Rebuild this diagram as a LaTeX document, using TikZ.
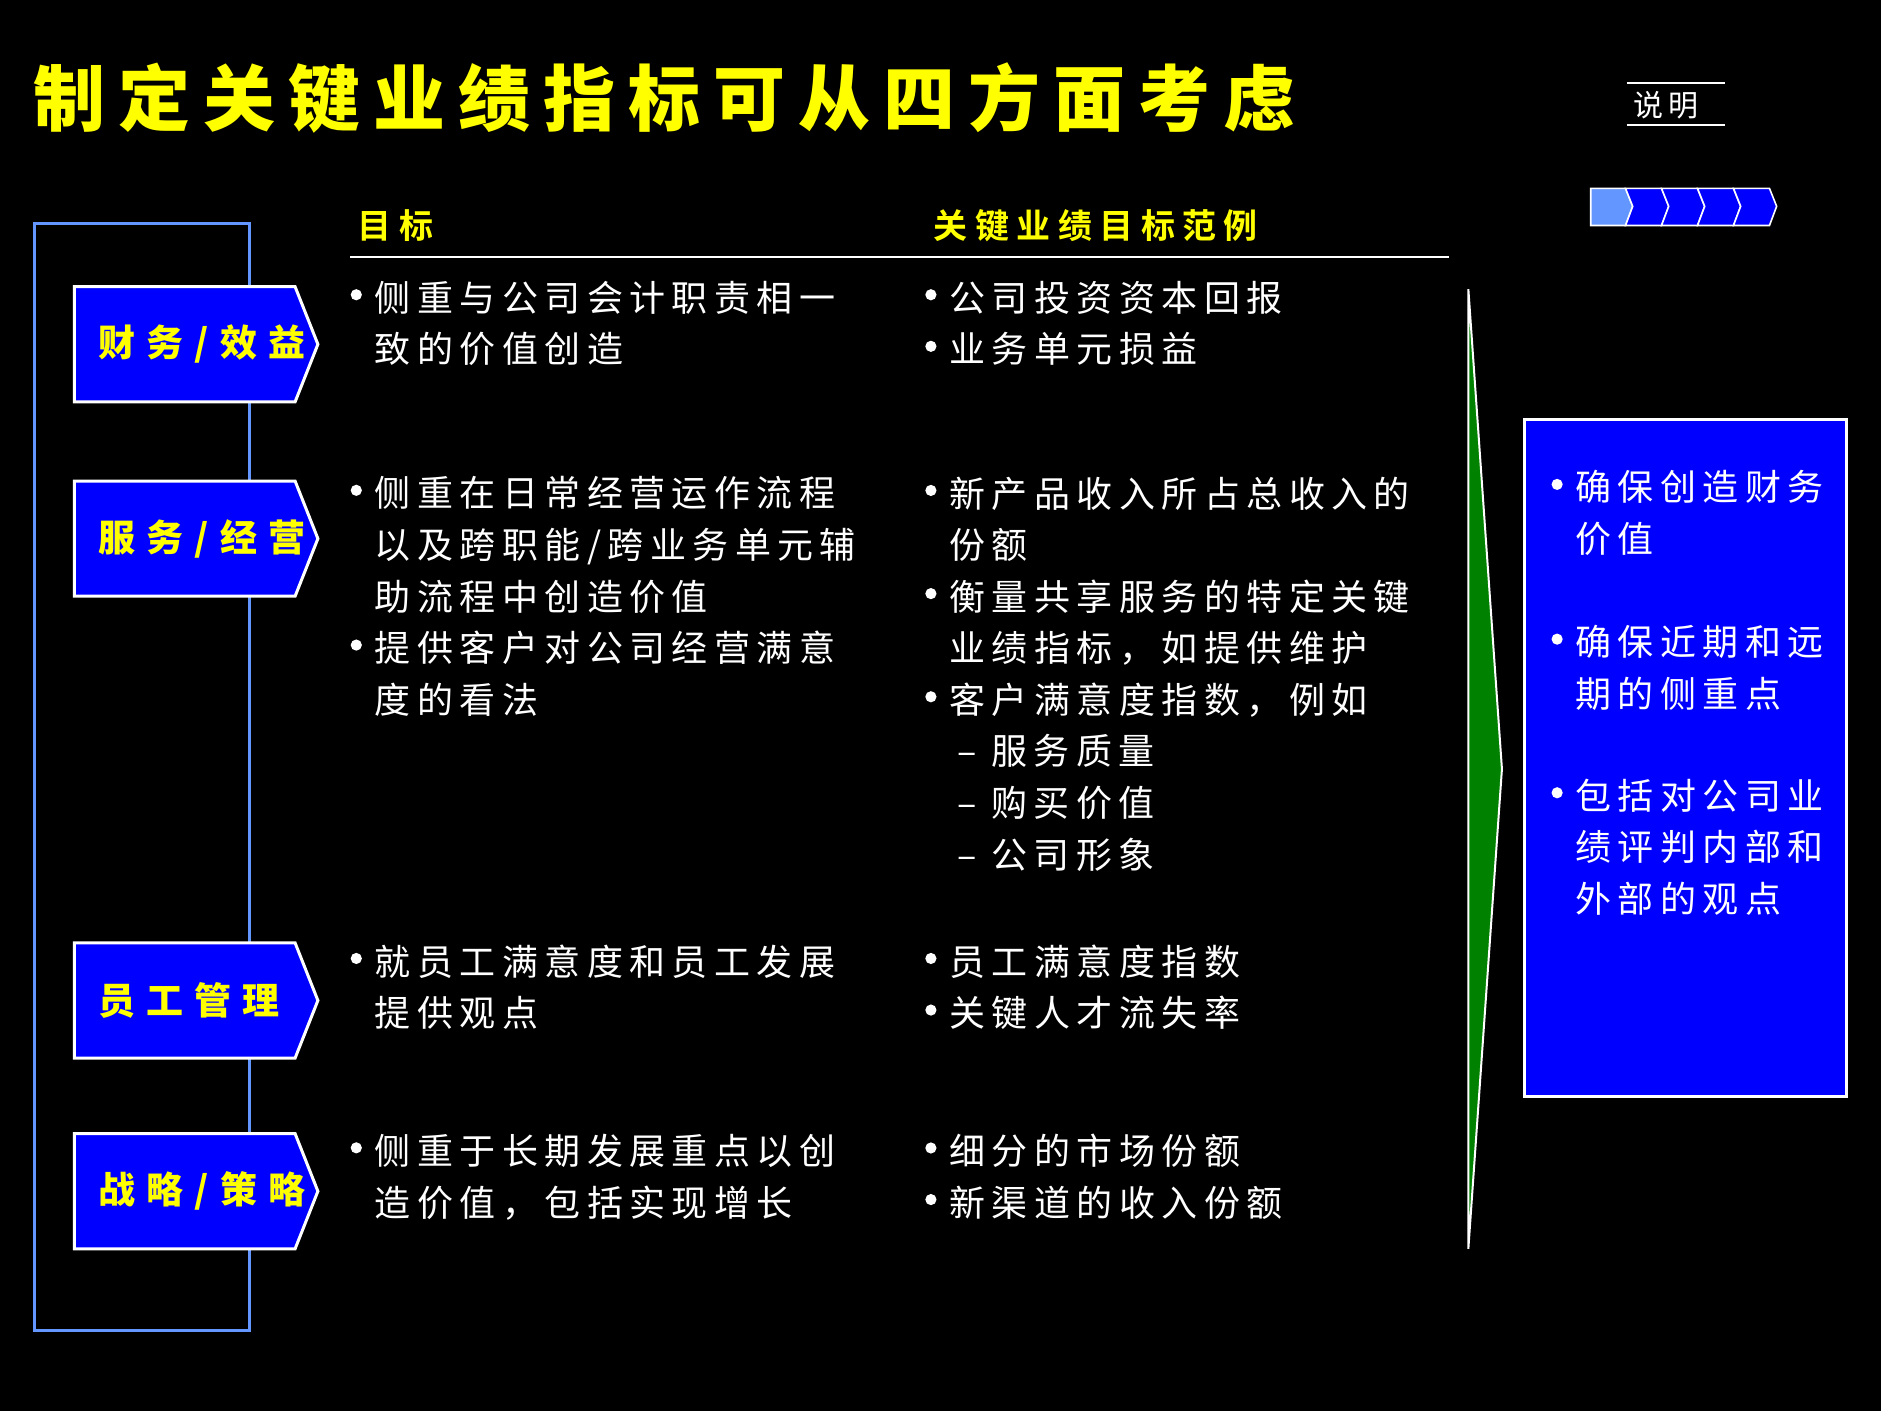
\documentclass[tikz,border=0pt]{standalone}
\usepackage{fontspec}
\newfontfamily\cjk[LetterSpace=18]{Noto Sans CJK SC}
\newfontfamily\cjkb[LetterSpace=22]{Noto Sans CJK SC Bold}
\newfontfamily\cjkl[LetterSpace=30]{Noto Sans CJK SC Black}
\newfontfamily\cjkt[LetterSpace=18]{Noto Sans CJK SC Black}
\definecolor{bl}{RGB}{0,0,255}
\definecolor{lb}{RGB}{100,150,255}
\definecolor{yl}{RGB}{255,255,0}
\definecolor{gr}{RGB}{0,130,0}
\newcommand\bu{\makebox[12pt][l]{\raisebox{5.5pt}{\tikz\fill[white] (0,0) circle (2.8pt);}}}
\newcommand\ind{\hspace*{12pt}}
\newcommand\sub{\hspace*{16pt}\makebox[17pt][l]{–}}
\begin{document}
\begin{tikzpicture}[x=0.6pt,y=-0.6pt,
  body/.style={anchor=north west,align=left,text=white,font=\cjk\fontsize{18}{25.8}\selectfont,inner sep=0},
  lab/.style={text=yl,font=\cjkl\fontsize{18.5}{20}\selectfont},
  hd/.style={anchor=west,text=yl,font=\cjkb\fontsize{17}{20}\selectfont,inner sep=0}]
\fill[black] (0,0) rectangle (1568,1176);
\node[anchor=west,text=yl,font=\cjkt\fontsize{36}{40}\selectfont,inner sep=0] (title) at (28,82) {制定关键业绩指标可从四方面考虑};
\node[text=white,font=\cjk\fontsize{15}{18}\selectfont,inner sep=0] (sm) at (1389,88) {说明};
\draw[white,line width=1.2] (1356,69) -- (1438,69) (1356,104) -- (1438,104);
% chevrons
\foreach \i/\c in {0/lb,1/bl,2/bl,3/bl,4/bl}{
  \pgfmathsetmacro\xa{1326+\i*30}
  \ifnum\i=0
   \fill[\c,draw=white,line width=0.8] (\xa,157) -- (\xa+29,157) -- (\xa+35,172) -- (\xa+29,188) -- (\xa,188) -- cycle;
  \else
   \fill[\c,draw=white,line width=0.8] (\xa-1,157) -- (\xa+29,157) -- (\xa+35,172) -- (\xa+29,188) -- (\xa-1,188) -- (\xa+5,172) -- cycle;
  \fi}
% bracket
\draw[lb,line width=1.5] (208,239) -- (208,186) -- (29,186) -- (29,1109) -- (208,1109) -- (208,1041);
\draw[lb,line width=1.5] (208,335) -- (208,401) (208,497) -- (208,786) (208,882) -- (208,945);
% boxes
\foreach \n/\y/\t in {a/239/{财务/效益},b/401/{服务/经营},c/786/{员工管理},d/945/{战略/策略}}{
  \fill[bl] (62,\y) -- (246,\y) -- (265,\y+48) -- (246,\y+96) -- (62,\y+96) -- cycle;
  \draw[white,line width=1.5] (62,\y) -- (246,\y) -- (265,\y+48) -- (246,\y+96) -- (62,\y+96) -- cycle;
  \node[lab,anchor=west,inner sep=0] (\n) at (82,\y+48) {\t};}
% headers
\node[hd] (h1) at (298,188) {目标};
\node[hd] (h2) at (778,188) {关键业绩目标范例};
\draw[white,line width=1.2] (292,214) -- (1208,214);
% body
\node[body] (t1) at (292,234) {\bu 侧重与公司会计职责相一\\\ind 致的价值创造};
\node[body] (e1) at (771,234) {\bu 公司投资资本回报\\\bu 业务单元损益};
\node[body] (t2) at (292,397) {\bu 侧重在日常经营运作流程\\\ind 以及跨职能/跨业务单元辅\\\ind 助流程中创造价值\\\bu 提供客户对公司经营满意\\\ind 度的看法};
\node[body] (e2) at (771,397) {\bu 新产品收入所占总收入的\\\ind 份额\\\bu 衡量共享服务的特定关键\\\ind 业绩指标，如提供维护\\\bu 客户满意度指数，例如\\\sub 服务质量\\\sub 购买价值\\\sub 公司形象};
\node[body] (t3) at (292,787) {\bu 就员工满意度和员工发展\\\ind 提供观点};
\node[body] (e3) at (771,787) {\bu 员工满意度指数\\\bu 关键人才流失率};
\node[body] (t4) at (292,945) {\bu 侧重于长期发展重点以创\\\ind 造价值，包括实现增长};
\node[body] (e4) at (771,945) {\bu 细分的市场份额\\\bu 新渠道的收入份额};
% green arrow
\fill[gr,draw=white,line width=1] (1224,241) -- (1252,641) -- (1224,1041) -- cycle;
% right box
\draw[fill=bl,draw=white,line width=1.5] (1271,350) rectangle (1539,914);
\node[body] (r1) at (1293,392) {\bu 确保创造财务\\\ind 价值};
\node[body] (r2) at (1293,521) {\bu 确保近期和远\\\ind 期的侧重点};
\node[body] (r3) at (1293,649) {\bu 包括对公司业\\\ind 绩评判内部和\\\ind 外部的观点};
\end{tikzpicture}
\end{document}
